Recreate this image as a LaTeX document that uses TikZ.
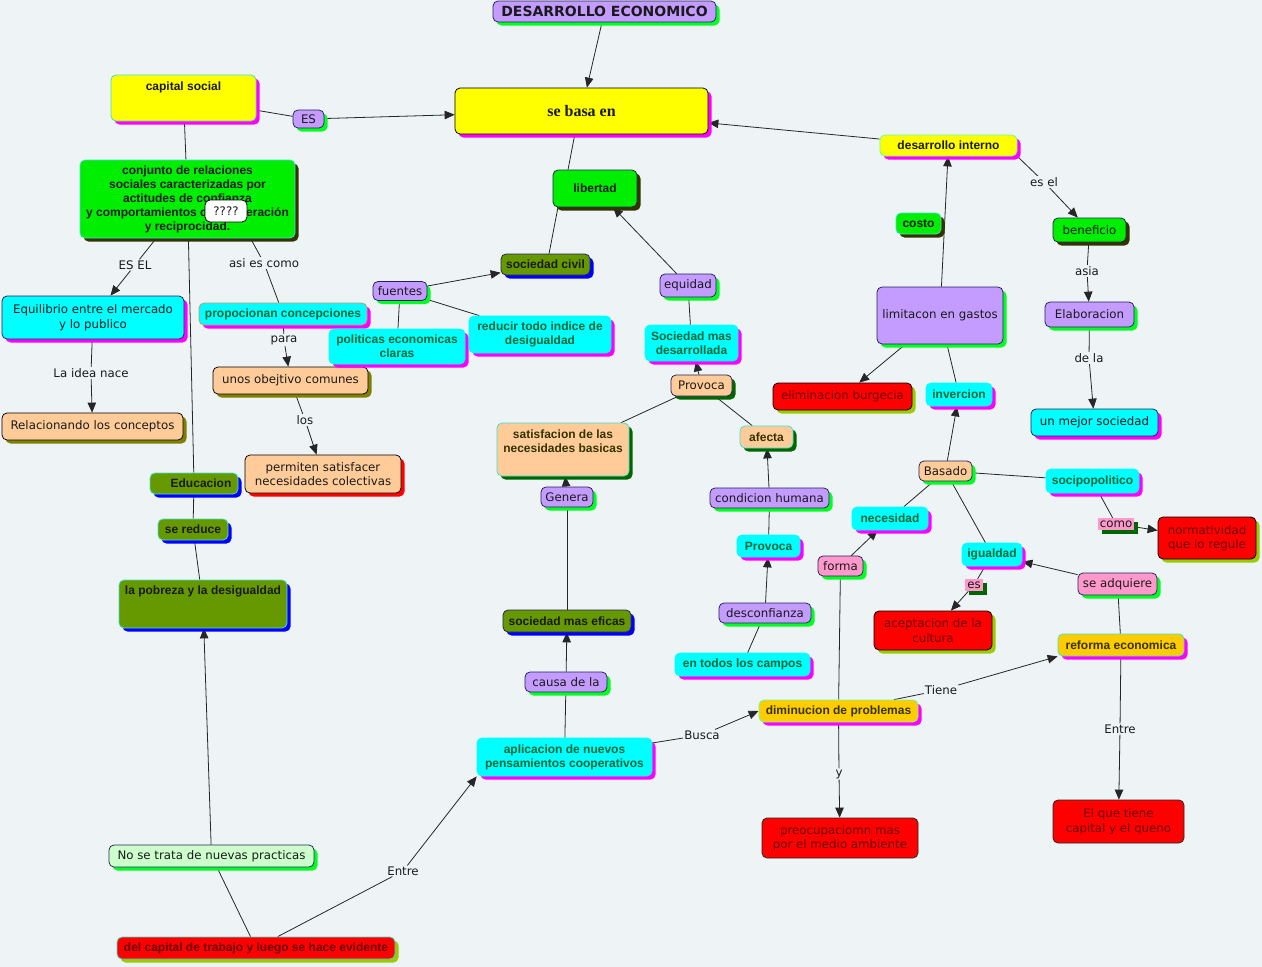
\documentclass[tikz,border=0pt]{standalone}
\usepackage{fontspec}
\setmainfont{DejaVu Sans}
\newfontfamily\arialfont{Liberation Sans}
\newfontfamily\timesfont{Liberation Serif}
\usetikzlibrary{arrows.meta,shadows,backgrounds}

\definecolor{cbg}{HTML}{EEF4F6}
\definecolor{clav}{HTML}{C49CFF}
\definecolor{cylw}{HTML}{FFFF00}
\definecolor{cgrn}{HTML}{00EE00}
\definecolor{cshg}{HTML}{00FF22}
\definecolor{colv}{HTML}{669900}
\definecolor{cpch}{HTML}{FFCC99}
\definecolor{cpnk}{HTML}{FF99CC}
\definecolor{corg}{HTML}{FFCC00}
\definecolor{cltg}{HTML}{CCFFCC}
\definecolor{ccyn}{HTML}{00FFFF}
\definecolor{cred}{HTML}{FF0000}
\definecolor{cnavy}{HTML}{22225A}
\definecolor{cmag}{HTML}{FF00FF}
\definecolor{cdko}{HTML}{333300}
\definecolor{colsh}{HTML}{808000}
\definecolor{cygr}{HTML}{99CC00}
\definecolor{cdkg}{HTML}{006600}
\definecolor{cbcy}{HTML}{40E0D0}
\definecolor{clgb}{HTML}{66FF99}
\definecolor{cpbr}{HTML}{CC9966}
\definecolor{cblu}{HTML}{0000FF}
\definecolor{ctxt}{HTML}{1A1A1A}
\definecolor{cteal}{HTML}{006633}
\definecolor{cmar}{HTML}{6A0000}
\definecolor{cmarb}{HTML}{660000}

\newcommand{\regfont}{\fontsize{11.8}{14.5}\selectfont}
\newcommand{\bldfont}{\arialfont\bfseries\fontsize{12}{14}\selectfont}
\newcommand{\ttlfont}{\bfseries\fontsize{14}{16}\selectfont}
\newcommand{\serfont}{\timesfont\bfseries\fontsize{16}{18}\selectfont}

\tikzset{
  box/.style={rounded corners=5pt, line width=0.75pt, inner sep=1.5pt, align=center},
  reg/.style={font=\regfont, text=ctxt},
  bld/.style={font=\bldfont, text=#1},
  bld/.default=ctxt,
  shd/.style={drop shadow={shadow xshift=3.5pt, shadow yshift=-3.5pt, fill=#1, opacity=1}},
  cbox/.style n args={3}{box, fill=#1, draw=#2, shd=#3},
  sz/.style 2 args={minimum width=#1, minimum height=#2},
  lnk/.style={reg, fill=cbg, inner sep=1pt},
  tag/.style={reg, fill=cpnk, inner sep=0.5pt, shd=cdkg},
  conn/.style={draw=black!85, line width=0.8pt},
}

\begin{document}
\begin{tikzpicture}[x=1pt, y=-1pt, >={Triangle[length=10pt,width=8.5pt]}]
\useasboundingbox (0,0) rectangle (1262,967);

\node (title) at (604.5,11.5) [cbox={clav}{cnavy}{cshg}, font=\ttlfont, text=ctxt, sz={223}{21}] {DESARROLLO ECONOMICO};
\node (sebasa) at (581.5,111) [cbox={cylw}{black}{cmag}, font=\serfont, text=ctxt, sz={253}{46}] {se basa en};
\node (capsoc) at (183.5,98) [cbox={cylw}{cbcy}{cmag}, sz={145}{46}, label={[anchor=north,yshift=-4pt,bld]north:capital social}] {};
\node (es1) at (308.5,119) [cbox={clav}{cnavy}{cshg}, reg, sz={31}{18}] {ES};
\node (conj) at (187.5,199) [cbox={cgrn}{cbcy}{cdko}, bld, inner xsep=0.5pt, sz={215}{78}] {conjunto de relaciones\\ sociales caracterizadas por\\ actitudes de confianza\\ y comportamientos de cooperación\\ y reciprocidad.};
\node (qmark) at (226,211) [box, fill=white, draw=black, reg, sz={42}{22}] {????};
\node (equil) at (93,317.5) [cbox={ccyn}{cnavy}{cmag}, reg, sz={182}{43}] {Equilibrio entre el mercado\\ y lo publico};
\node (propo) at (283,314) [cbox={ccyn}{cpbr}{cmag}, bld=cteal, sz={168}{22}] {propocionan concepciones};
\node (unos) at (290.5,380.5) [cbox={cpch}{black}{colsh}, reg, sz={155}{27}] {unos obejtivo comunes};
\node (permit) at (323,474) [cbox={cpch}{black}{cred}, reg, sz={156}{38}] {permiten satisfacer\\ necesidades colectivas};
\node (relac) at (92.5,426.5) [cbox={cpch}{black}{colsh}, reg, sz={181}{27}] {Relacionando los conceptos};
\node (educ) at (194,483.5) [cbox={colv}{cbcy}{cblu}, bld, sz={88}{21}] {\hspace*{14pt}Educacion};
\node (sered) at (193,529.5) [cbox={colv}{cbcy}{cblu}, bld, sz={70}{21}] {se reduce};
\node (pobreza) at (203,604) [cbox={colv}{cbcy}{cblu}, sz={168}{48}, label={[anchor=north,yshift=-3pt,bld]north:la pobreza y la desigualdad}] {};
\node (notrata) at (211.5,856) [cbox={cltg}{cnavy}{cshg}, reg, sz={205}{22}] {No se trata de nuevas practicas};
\node (delcap) at (256,948) [cbox={cred}{cbcy}{cygr}, bld=cmarb, sz={278}{22}] {del capital de trabajo y luego se hace evidente};
\node (aplic) at (564.5,757) [cbox={ccyn}{ccyn}{cmag}, bld=cteal, sz={175}{38}] {aplicacion de nuevos\\ pensamientos cooperativos};
\node (causa) at (566,682) [cbox={clav}{cnavy}{cshg}, reg, sz={82}{20}] {causa de la};
\node (eficas) at (567,621) [cbox={colv}{cnavy}{cblu}, bld, sz={128}{22}] {sociedad mas eficas};
\node (genera) at (567,497) [cbox={clav}{cnavy}{cshg}, reg, sz={52}{20}] {Genera};
\node (satisf) at (563,449.5) [cbox={cpch}{cbcy}{cdkg}, sz={132}{53}, label={[anchor=north,yshift=-4pt,bld=cdko,align=center]north:satisfacion de las\\ necesidades basicas}] {};
\node (provoca1) at (701.5,385.5) [cbox={cpch}{cnavy}{cdkg}, reg, sz={61}{21}] {Provoca};
\node (socdes) at (691.5,343) [cbox={ccyn}{ccyn}{cmag}, bld=cteal, sz={93}{36}] {Sociedad mas\\ desarrollada};
\node (equidad) at (688,285.5) [cbox={clav}{cnavy}{cshg}, reg, sz={56}{23}] {equidad};
\node (libertad) at (595,188.5) [cbox={cgrn}{cnavy}{cdko}, bld, sz={84}{37}] {libertad};
\node (soccivil) at (545.5,264.5) [cbox={colv}{cnavy}{cblu}, bld, sz={89}{21}] {sociedad civil};
\node (fuentes) at (400,291) [cbox={clav}{cnavy}{cshg}, reg, sz={54}{19}] {fuentes};
\node (politicas) at (397,346.5) [cbox={ccyn}{ccyn}{cmag}, bld=cteal, sz={136}{35}] {politicas economicas\\ claras};
\node (reducir) at (540,334.5) [cbox={ccyn}{ccyn}{cmag}, bld=cteal, sz={142}{37}] {reducir todo indice de\\ desigualdad};
\node (afecta) at (766.5,437) [cbox={cpch}{cbcy}{cdkg}, bld=cdko, sz={53}{22}] {afecta};
\node (condic) at (769.5,498) [cbox={clav}{cnavy}{cshg}, reg, sz={119}{20}] {condicion humana};
\node (provoca2) at (768.5,546) [cbox={ccyn}{ccyn}{cmag}, bld=cteal, sz={63}{22}] {Provoca};
\node (desconf) at (765,613) [cbox={clav}{cnavy}{cshg}, reg, sz={92}{20}] {desconfianza};
\node (entodos) at (742.5,664.5) [cbox={ccyn}{ccyn}{cmag}, bld=cteal, sz={135}{23}] {en todos los campos};
\node (diminuc) at (838.5,711) [cbox={corg}{clgb}{cmag}, bld=cdko, sz={159}{22}] {diminucion de problemas};
\node (preoc) at (840,838) [box, fill=cred, draw=black!85, reg, text=cmar, sz={156}{40}] {preocupaciomn mas\\ por el medio ambiente};
\node (reforma) at (1121,645) [cbox={corg}{cbcy}{cmag}, bld=cdko, sz={126}{22}] {reforma economica};
\node (elque) at (1118.5,821.5) [box, fill=cred, draw=black!85, reg, text=cmar, sz={131}{43}] {El que tiene\\ capital y el queno};
\node (forma) at (840.5,566) [cbox={cpnk}{cnavy}{cshg}, reg, sz={45}{20}] {forma};
\node (necesidad) at (890,518.5) [cbox={ccyn}{ccyn}{cmag}, bld=cteal, sz={76}{23}] {necesidad};
\node (basado) at (945.5,471) [cbox={cpch}{cnavy}{cshg}, reg, sz={53}{20}] {Basado};
\node (invercion) at (959,394.5) [cbox={ccyn}{ccyn}{cmag}, bld=cteal, sz={66}{23}] {invercion};
\node (limit) at (940,315.5) [cbox={clav}{cnavy}{cshg}, reg, sz={126}{57}] {limitacon en gastos};
\node (elimin) at (842.5,396.5) [cbox={cred}{black}{cygr}, reg, text=cmar, sz={139}{27}] {eliminacion burgecia};
\node (costo) at (918.5,223.5) [cbox={cgrn}{cbcy}{cdko}, bld, sz={45}{21}] {costo};
\node (desint) at (948.5,145.5) [cbox={cylw}{clgb}{cmag}, bld, sz={137}{21}] {desarrollo interno};
\node (benef) at (1089.5,230) [cbox={cgrn}{cnavy}{cdko}, reg, sz={73}{24}] {beneficio};
\node (elabor) at (1089.5,314.5) [cbox={clav}{cnavy}{cshg}, reg, sz={89}{25}] {Elaboracion};
\node (mejor) at (1094.5,422.5) [cbox={ccyn}{cnavy}{cmag}, reg, sz={127}{27}] {un mejor sociedad};
\node (socipo) at (1092.5,481) [cbox={ccyn}{ccyn}{cmag}, bld=cteal, sz={93}{24}] {socipopolitico};
\node (normat) at (1207,538) [cbox={cred}{black}{cygr}, reg, text=cmar, sz={98}{42}] {normatividad\\ que lo regule};
\node (igualdad) at (992,554.5) [cbox={ccyn}{ccyn}{cmag}, bld=cteal, sz={60}{23}] {igualdad};
\node (aceptac) at (933,630.5) [cbox={cred}{black}{cygr}, reg, text=cmar, sz={118}{39}] {aceptacion de la\\ cultura};
\node (seadq) at (1117.5,584) [cbox={cpnk}{cnavy}{cshg}, reg, sz={79}{22}] {se adquiere};
\node (como) at (1116,524) [tag, sz={36}{12}] {como};
\node (es2) at (974,585) [tag, sz={18}{12}] {es};

\node (lesel) at (135,265) [lnk] {ES EL};
\node (lasies) at (264,263) [lnk] {asi es como};
\node (lpara) at (284,340) [lnk] {para};
\node (llos) at (305,420) [lnk] {los};
\node (lidea) at (91,373) [lnk] {La idea nace};
\node (lentre1) at (403,871) [lnk] {Entre};
\node (lbusca) at (702,735) [lnk] {Busca};
\node (ly) at (839,774) [lnk] {y};
\node (ltiene) at (941,690) [lnk] {Tiene};
\node (lentre2) at (1120,729) [lnk] {Entre};
\node (lesel2) at (1044,182) [lnk] {es el};
\node (lasia) at (1087,271) [lnk] {asia};
\node (ldela) at (1089,358) [lnk] {de la};

\begin{pgfonlayer}{background}
\fill[cbg] (0,0) rectangle (1262,967);
\draw[conn,->] (title) -- (sebasa);
\draw[conn] (capsoc) -- (es1);
\draw[conn,->] (es1) -- (sebasa);
\draw[conn,->] (desint) -- (sebasa);
\draw[conn] (sebasa.254) -- (libertad.145);
\draw[conn] (libertad.207) -- (soccivil.72);
\draw[conn,->] (fuentes) -- (soccivil);
\draw[conn] (fuentes) -- (reducir);
\draw[conn] (fuentes) -- (politicas);
\draw[conn,->] (equidad) -- (libertad);
\draw[conn] (socdes) -- (equidad);
\draw[conn,->] (provoca1) -- (socdes);
\draw[conn] (satisf) -- (provoca1);
\draw[conn] (provoca1) -- (afecta);
\draw[conn,->] (condic) -- (afecta);
\draw[conn] (condic) -- (provoca2);
\draw[conn,->] (desconf) -- (provoca2);
\draw[conn] (desconf) -- (entodos);
\draw[conn,->] (genera) -- (satisf);
\draw[conn] (eficas) -- (genera);
\draw[conn,->] (causa) -- (eficas);
\draw[conn] (aplic) -- (causa);
\draw[conn] (aplic) -- (lbusca);
\draw[conn,->] (lbusca) -- (diminuc.west);
\draw[conn] (delcap) -- (lentre1);
\draw[conn,->] (lentre1) -- (aplic.south west);
\draw[conn] (notrata) -- (delcap);
\draw[conn,->] (notrata) -- (pobreza);
\draw[conn] (capsoc) -- (conj);
\draw[conn] (conj) -- (educ);
\draw[conn] (educ) -- (sered);
\draw[conn] (sered) -- (pobreza);
\draw[conn] (conj) -- (lesel);
\draw[conn,->] (lesel) -- (equil);
\draw[conn] (conj.-32) -- (lasies);
\draw[conn] (lasies) -- (propo);
\draw[conn] (propo) -- (lpara);
\draw[conn,->] (lpara) -- (unos);
\draw[conn] (unos) -- (llos);
\draw[conn,->] (llos) -- (permit);
\draw[conn] (equil) -- (lidea);
\draw[conn,->] (lidea) -- (relac);
\draw[conn] (diminuc) -- (ly);
\draw[conn,->] (ly) -- (preoc);
\draw[conn] (diminuc) -- (ltiene);
\draw[conn,->] (ltiene) -- (reforma.south west);
\draw[conn] (reforma) -- (lentre2);
\draw[conn,->] (lentre2) -- (elque);
\draw[conn] (forma) -- (diminuc);
\draw[conn,->] (forma) -- (necesidad);
\draw[conn] (necesidad) -- (basado);
\draw[conn,->] (basado) -- (invercion);
\draw[conn] (invercion) -- (limit);
\draw[conn,->] (limit) -- (elimin);
\draw[conn,->] (limit) -- (desint);
\draw[conn] (desint.south east) -- (lesel2);
\draw[conn,->] (lesel2) -- (benef);
\draw[conn] (benef) -- (lasia);
\draw[conn,->] (lasia) -- (elabor);
\draw[conn] (elabor) -- (ldela);
\draw[conn,->] (ldela) -- (mejor);
\draw[conn] (basado) -- (socipo);
\draw[conn] (socipo) -- (como);
\draw[conn,->] (como) -- (normat);
\draw[conn] (basado) -- (igualdad);
\draw[conn] (igualdad) -- (es2);
\draw[conn,->] (es2) -- (aceptac);
\draw[conn,->] (seadq) -- (igualdad);
\draw[conn] (seadq) -- (reforma);
\end{pgfonlayer}
\end{tikzpicture}
\end{document}
